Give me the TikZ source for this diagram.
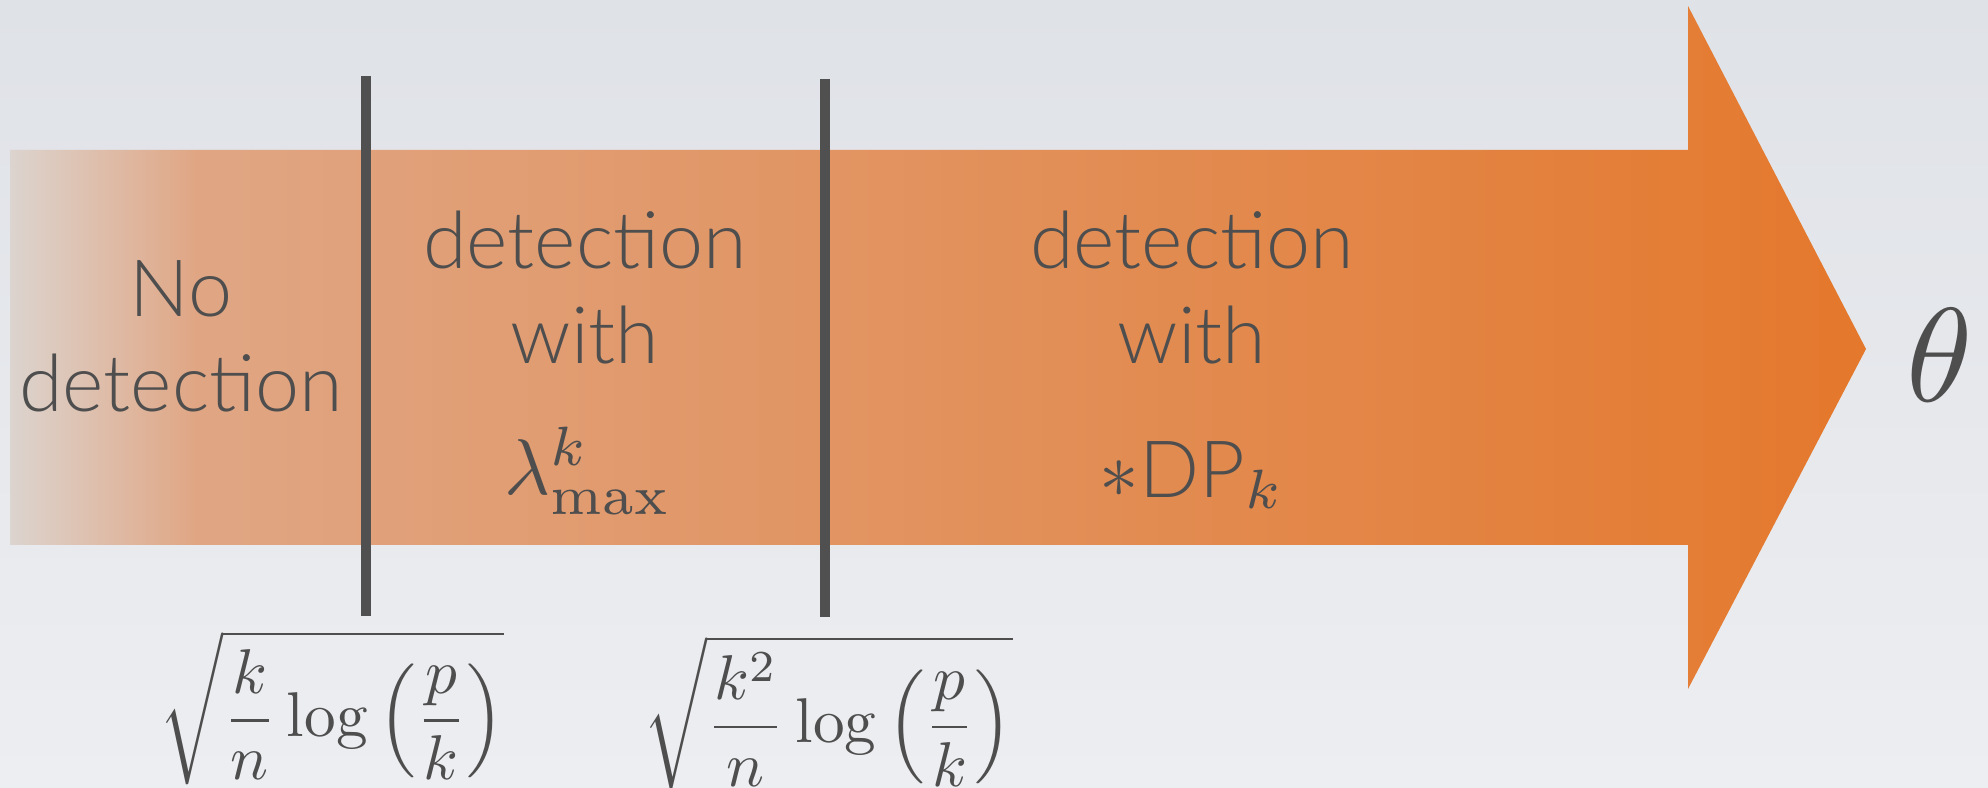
\documentclass[tikz,border=0pt]{standalone}
\usepackage{fontspec}
\setsansfont{Lato Light}
\usetikzlibrary{positioning}
\definecolor{bgtop}{HTML}{DFE2E7}
\definecolor{bgbot}{HTML}{EDEEF1}
\definecolor{shleft}{HTML}{DCD4CF}
\definecolor{shmid}{HTML}{E0A684}
\definecolor{shright}{HTML}{E4782C}
\definecolor{ink}{HTML}{4E4E4E}
\definecolor{barcol}{HTML}{505050}
\pgfdeclarehorizontalshading{fadearrow}{100bp}{color(0bp)=(shleft); color(25bp)=(shleft); color(30bp)=(shmid); color(75bp)=(shright); color(100bp)=(shright)}

\begin{document}
\begin{tikzpicture}[
  every node/.style={text=ink},
  zone/.style={align=center, font=\sffamily, scale=2.25},
  sep/.style={draw=barcol, line width=3.1pt},
  bound/.style={scale=1.8, inner sep=0pt, anchor=north}
]
  \useasboundingbox (0,0) rectangle (19.88,7.88);
  % backdrop and the big arrow
  \shade[top color=bgtop, bottom color=bgbot] (0,0) rectangle (19.88,7.88);
  \shade[shading=fadearrow] (0.10,2.43) -- (16.88,2.43) -- (16.88,0.99)
    -- (18.66,4.39) -- (16.88,7.82) -- (16.88,6.38) -- (0.10,6.38) -- cycle;

  % thresholds
  \coordinate (b1top) at (3.66,7.12);
  \coordinate (b1bot) at (3.66,1.72);
  \coordinate (b2top) at (8.25,7.09);
  \coordinate (b2bot) at (8.25,1.71);
  \draw[sep] (b1top) -- (b1bot);
  \draw[sep] (b2top) -- (b2bot);

  \node[bound] (lim1) at (3.32,1.59)
    {$\displaystyle\sqrt{\frac{k}{n}\log\left(\frac{p}{k}\right)}$};
  \node[bound] (lim2) at (8.28,1.54)
    {$\displaystyle\sqrt{\frac{k^2}{n}\log\left(\frac{p}{k}\right)}$};

  % regimes
  \node[zone] (nodet) at (1.81,4.52) {No\\detection};
  \node[zone] (eigzone) at (5.85,5.00) {detection\\with};
  \node[zone] (eig) at (5.88,3.17) {$\lambda^k_{\max}$};
  \node[zone] (dpzone) at (11.92,5.00) {detection\\with};
  \node[zone] (dp) at (11.92,3.13) {$*$DP$_k$};

  \node[scale=3.8] (theta) at (19.40,4.33) {$\theta$};
\end{tikzpicture}
\end{document}
